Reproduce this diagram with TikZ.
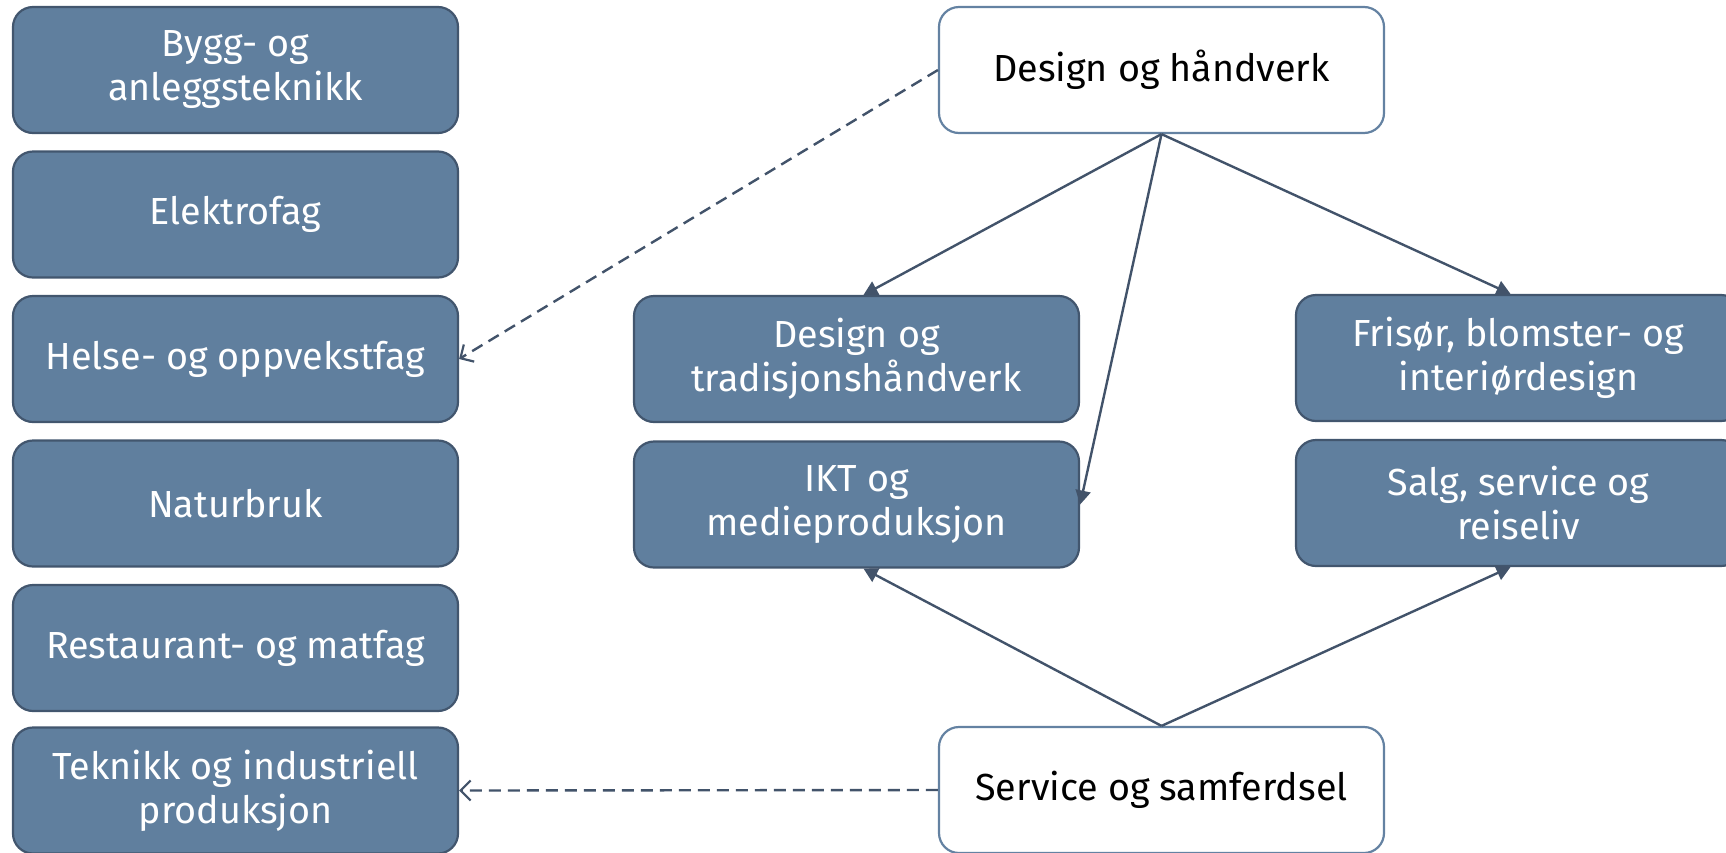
\documentclass[tikz,border=0pt]{standalone}
\usepackage{fontspec}
\setmainfont{Fira Sans}
\usetikzlibrary{arrows.meta}
\definecolor{boxfill}{RGB}{96,127,158}
\definecolor{boxline}{RGB}{66,86,110}
\definecolor{wline}{RGB}{100,130,162}
\definecolor{conn}{RGB}{66,83,106}
\begin{document}
\begin{tikzpicture}[x=1pt,y=-1pt,
  base/.style={rounded corners=20pt, minimum width=445pt, minimum height=126pt,
    inner sep=0pt, align=center, line width=2.2pt,
    font=\fontsize{37.7}{44}\selectfont},
  darkbox/.style={base, fill=boxfill, draw=boxline, text=white},
  lightbox/.style={base, fill=white, draw=wline, text=black},
  solidarrow/.style={draw=conn, line width=2.4pt, -{Triangle[length=14pt,width=15pt]}},
  dasharrow/.style={draw=conn, line width=2.4pt, dash pattern=on 12pt off 7pt,
    -{Straight Barb[length=10pt,width=20pt,line width=2.2pt]}}]
\useasboundingbox (0,0) rectangle (1726,852);
% left column
\node[darkbox] (bygg) at (235.5,70) {Bygg- og\\anleggsteknikk};
\node[darkbox] (elek) at (235.5,214.5) {Elektrofag};
\node[darkbox] (helse) at (235.5,359) {Helse- og oppvekstfag};
\node[darkbox] (natur) at (235.5,503.5) {Naturbruk};
\node[darkbox] (rest) at (235.5,648) {Restaurant- og matfag};
\node[darkbox] (tek) at (235.5,790.5) {Teknikk og industriell\\produksjon};
% middle
\node[darkbox] (dt) at (856.5,359) {Design og\\tradisjonshåndverk};
\node[darkbox] (ikt) at (856.5,504.5) {IKT og\\medieproduksjon};
% right
\node[darkbox] (fris) at (1518.5,358) {Frisør, blomster- og\\interiørdesign};
\node[darkbox] (salg) at (1518.5,503) {Salg, service og\\reiseliv};
% white boxes
\node[lightbox] (dh) at (1161.5,70) {Design og håndverk};
\node[lightbox] (ss) at (1161.5,790) {Service og samferdsel};
% connectors
\draw[solidarrow] (dh.south) -- ([xshift=7pt]dt.north);
\draw[solidarrow] (dh.south) -- (ikt.east);
\draw[solidarrow] (dh.south) -- ([xshift=-8pt]fris.north);
\draw[solidarrow] (ss.north) -- ([xshift=7pt]ikt.south);
\draw[solidarrow] (ss.north) -- ([xshift=-8pt]salg.south);
\draw[dasharrow] (dh.west) -- (helse.east);
\draw[dasharrow] (ss.west) -- (tek.east);
\end{tikzpicture}
\end{document}
